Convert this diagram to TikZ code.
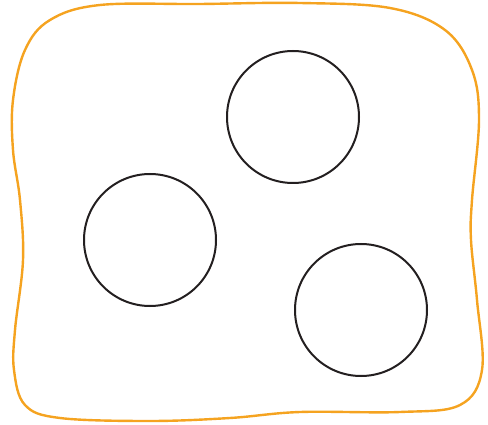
\documentclass[tikz,border=0pt]{standalone}
\usepackage{tikz}

\definecolor{blobcol}{HTML}{F5A320}
\definecolor{ringcol}{HTML}{231F20}

\begin{document}
\begin{tikzpicture}[x=1pt, y=-1pt]
    \useasboundingbox (0,0) rectangle (488,425);

    % outer boundary
    \draw[blobcol, line width=2.4pt] plot[smooth cycle, tension=.6] coordinates {
        (100,5) (200,4) (300,3) (390,8) (445,30) (472,70) (479,120)
        (472,200) (471,240) (477,300) (482,370) (460,405) (400,412)
        (300,412) (230,418) (150,421) (60,418) (25,405) (14,370)
        (15,330) (23,260) (20,200) (13,150) (13,100) (25,50) (50,20)};

    % holes
    \draw[ringcol, line width=2pt] (293,117) circle (66);
    \draw[ringcol, line width=2pt] (150,240) circle (66);
    \draw[ringcol, line width=2pt] (361,310) circle (66);

\end{tikzpicture}
\end{document}
